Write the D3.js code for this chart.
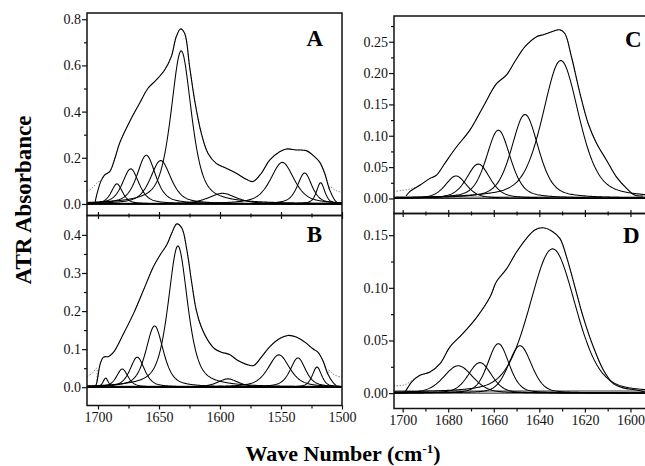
<!doctype html>
<html>
<head>
<meta charset="utf-8">
<title>ATR spectra with band fits</title>
<script src="https://cdnjs.cloudflare.com/ajax/libs/d3/7.8.5/d3.min.js"></script>
<style>
  body { margin: 0; background: #fff; }
  svg text { font-family: 'Liberation Serif', 'Tinos', 'Times New Roman', 'Nimbus Roman', 'DejaVu Serif', serif; }
</style>
</head>
<body>
<div id="chart"></div>
<script>
// ---- data ----
// x ticks
const xTicksLeft = [1700, 1650, 1600, 1550, 1500];
const xMinorLeft = [1675, 1625, 1575, 1525];
const xTicksRight = [1700, 1680, 1660, 1640, 1620, 1600];
const xMinorRight = [1690, 1670, 1650, 1630, 1610];

// y ticks
const yTicksA = [0, 0.2, 0.4, 0.6, 0.8];
const yMinorA = [0.1, 0.3, 0.5, 0.7];
const yTicksB = [0, 0.1, 0.2, 0.3, 0.4];
const yMinorB = [0.05, 0.15, 0.25, 0.35];
const yTicksC = [0, 0.05, 0.10, 0.15, 0.20, 0.25];
const yMinorC = [0.025, 0.075, 0.125, 0.175, 0.225, 0.275];
const yTicksD = [0, 0.05, 0.10, 0.15];
const yMinorD = [0.025, 0.075, 0.125];

// component bands (centre cm-1, height, fwhm cm-1)
const bandA_center = [1684.5, 1673.2, 1660.4, 1648.6, 1631.8, 1598, 1548.9, 1530.6, 1517.5];
const bandA_height = [0.087, 0.152, 0.211, 0.188, 0.663, 0.046, 0.180, 0.134, 0.092];
const bandA_width  = [11, 16, 18, 20, 20, 27, 23, 14, 8];

const bandB_center = [1693.7, 1680.1, 1667.8, 1653.6, 1634.5, 1593.5, 1551.7, 1536.1, 1520.5];
const bandB_height = [0.024, 0.048, 0.079, 0.161, 0.371, 0.022, 0.085, 0.077, 0.053];
const bandB_width  = [5, 11, 14, 17, 19, 20, 21, 15, 9];

const bandC_center = [1676.6, 1666.8, 1658, 1646.3, 1630.6];
const bandC_height = [0.036, 0.055, 0.109, 0.134, 0.220];
const bandC_width  = [11, 12, 12.5, 14, 19];

const bandD_center = [1675.6, 1666.1, 1658, 1648.5, 1634.2];
const bandD_height = [0.026, 0.029, 0.047, 0.045, 0.137];
const bandD_width  = [15, 12, 11, 12, 24];

// measured spectra [wavenumber, absorbance]
const specA = [[1702.5,0.005],[1700.5,0.05],[1697.5,0.10],[1694.5,0.126],[1690.4,0.14],[1686,0.2],
  [1682.3,0.263],[1674.1,0.356],[1665.9,0.436],[1659,0.501],[1652.2,0.537],[1645.4,0.58],[1639.9,0.638],
  [1635.8,0.725],[1632.3,0.758],[1629,0.739],[1624.9,0.595],[1620.8,0.45],[1615.3,0.306],[1609.9,0.22],
  [1603.1,0.176],[1594.9,0.155],[1586.7,0.133],[1578.5,0.107],[1573,0.097],[1566.1,0.133],[1559.3,0.19],
  [1551.1,0.226],[1545.6,0.238],[1537.5,0.234],[1529.3,0.231],[1522.5,0.205],[1518.3,0.181],[1514.2,0.133],
  [1510.1,0.061],[1506,0.017],[1503.5,0.003]];
const specB = [[1702,0.003],[1700.9,0.013],[1698.1,0.062],[1695.4,0.079],[1691.2,0.081],[1687.2,0.092],
  [1679,0.141],[1670.8,0.194],[1662.7,0.255],[1654.5,0.317],[1649,0.348],[1643.6,0.374],[1639.5,0.405],
  [1635.4,0.429],[1631.3,0.418],[1627.2,0.361],[1623.1,0.273],[1619.4,0.202],[1615.3,0.158],[1609.9,0.123],
  [1604.4,0.101],[1598.9,0.092],[1592.1,0.086],[1585.3,0.07],[1578.4,0.06],[1572.4,0.057],[1566.1,0.079],
  [1559.3,0.106],[1551.1,0.128],[1544.3,0.136],[1537.5,0.132],[1530.7,0.119],[1523.9,0.101],[1519.8,0.092],
  [1515.7,0.07],[1511.6,0.035],[1507.5,0.013],[1504.7,0.004]];
const specC = [[1698.5,0.004],[1696.9,0.011],[1692.5,0.021],[1688,0.032],[1685.2,0.037],[1681.5,0.056],
  [1676.4,0.082],[1670.5,0.109],[1664.7,0.146],[1658.8,0.183],[1654.4,0.197],[1650.8,0.218],[1646.3,0.242],
  [1641.2,0.258],[1638.3,0.261],[1634.6,0.266],[1631,0.269],[1628.8,0.263],[1625.9,0.226],[1622.2,0.168],
  [1618.6,0.12],[1614.9,0.088],[1610.5,0.061],[1606.1,0.034],[1601.7,0.016],[1598,0.005],[1594.4,0.004]];
const specD = [[1699.5,0.0],[1699,0.001],[1696.1,0.0105],[1692.4,0.017],[1688,0.02],[1683.6,0.028],
  [1679.2,0.044],[1673.4,0.057],[1667.5,0.072],[1661.7,0.091],[1658.8,0.106],[1654.4,0.118],[1650,0.134],
  [1645.6,0.147],[1642,0.155],[1638.3,0.157],[1634.6,0.154],[1631,0.147],[1628,0.129],[1624.4,0.101],
  [1620.7,0.072],[1616.3,0.044],[1611.9,0.022],[1607.5,0.009],[1603.2,0.005],[1597.3,0.003],[1593.7,0.001]];

// dotted fit trace where it leaves the spectrum (edges)
const dotA_left = [[1709,0.053],[1705,0.068],[1700,0.095]];
const dotA_right = [[1510,0.075],[1505,0.058],[1500,0.05]];
const dotB_left = [[1709,0.028],[1705,0.036],[1701,0.05]];
const dotB_right = [[1511,0.045],[1506,0.032],[1500,0.026]];
const dotC_left = [[1704,0.011],[1700,0.013],[1696.9,0.015]];
const dotC_right = [[1592,0.006]];
const dotD_left = [[1704,0.007],[1699,0.008],[1696,0.012]];
const dotD_right = [[1592,0.002]];

// ---- layout ----
const W = 645, H = 466;
const FONT = "'Liberation Serif', 'Tinos', 'Times New Roman', 'Nimbus Roman', 'DejaVu Serif', serif";
const svg = d3.select('#chart').append('svg')
  .attr('width', W).attr('height', H)
  .attr('font-family', FONT)
  .style('display', 'block');

const panels = [
  { name: 'A', x: [87, 342], y: [13, 215.5], xdom: [1709, 1500], ydom: [-0.05, 0.827],
    spec: specA, dotL: dotA_left, dotR: dotA_right,
    bc: bandA_center, bh: bandA_height, bw: bandA_width, eta: 0.6,
    yt: yTicksA, ym: yMinorA, fmt: '.1f', xt: xTicksLeft, xm: xMinorLeft,
    bottom: 'cross', lab: [323, 46, 'end'] },
  { name: 'B', x: [87, 342], y: [215.5, 405.5], xdom: [1709, 1500], ydom: [-0.048, 0.451],
    spec: specB, dotL: dotB_left, dotR: dotB_right,
    bc: bandB_center, bh: bandB_height, bw: bandB_width, eta: 0.6,
    yt: yTicksB, ym: yMinorB, fmt: '.1f', xt: xTicksLeft, xm: xMinorLeft,
    bottom: 'labels', lab: [322, 242, 'end'] },
  { name: 'C', x: [394, 648], y: [16, 213.5], xdom: [1703.8, 1592.3], ydom: [-0.024, 0.291],
    spec: specC, dotL: dotC_left, dotR: dotC_right,
    bc: bandC_center, bh: bandC_height, bw: bandC_width, eta: 0.45,
    yt: yTicksC, ym: yMinorC, fmt: '.2f', xt: xTicksRight, xm: xMinorRight,
    bottom: 'cross', lab: [625, 47, 'start'] },
  { name: 'D', x: [394, 648], y: [213.5, 408.5], xdom: [1703.8, 1592.3], ydom: [-0.0146, 0.1706],
    spec: specD, dotL: dotD_left, dotR: dotD_right,
    bc: bandD_center, bh: bandD_height, bw: bandD_width, eta: 0.3,
    yt: yTicksD, ym: yMinorD, fmt: '.2f', xt: xTicksRight, xm: xMinorRight,
    bottom: 'labels', lab: [623, 243, 'start'] }
];

// pseudo-Voigt band profile
function bandValue(wn, c, h, w, eta) {
  const t = (wn - c) / w;
  return h * (eta / (1 + 4 * t * t) + (1 - eta) * Math.exp(-4 * Math.LN2 * t * t));
}

panels.forEach((p, pi) => {
  const x = d3.scaleLinear().domain(p.xdom).range(p.x);
  const y = d3.scaleLinear().domain(p.ydom).range([p.y[1], p.y[0]]);
  const line = d3.line().x(d => x(d[0])).y(d => y(d[1])).curve(d3.curveCatmullRom.alpha(0.5));

  const clipId = 'clip' + pi;
  svg.append('clipPath').attr('id', clipId).append('rect')
    .attr('x', p.x[0]).attr('y', p.y[0])
    .attr('width', p.x[1] - p.x[0]).attr('height', p.y[1] - p.y[0]);

  const g = svg.append('g').attr('clip-path', `url(#${clipId})`);

  // baseline
  g.append('line')
    .attr('x1', p.x[0]).attr('x2', p.x[1])
    .attr('y1', y(0.002)).attr('y2', y(0.002))
    .attr('stroke', '#9a9a9a').attr('stroke-width', 2);
  g.append('line')
    .attr('x1', p.x[0]).attr('x2', p.x[1])
    .attr('y1', y(0)).attr('y2', y(0))
    .attr('stroke', '#222').attr('stroke-width', 1);

  // component bands
  const grid = d3.range(p.xdom[0], p.xdom[1] - 0.01, -0.5);
  p.bc.forEach((c, i) => {
    const pts = grid.map(wn => [wn, bandValue(wn, c, p.bh[i], p.bw[i], p.eta)]);
    g.append('path')
      .attr('d', d3.line().x(d => x(d[0])).y(d => y(d[1]))(pts))
      .attr('fill', 'none').attr('stroke', '#000').attr('stroke-width', 1.05);
  });

  // dotted fit trace
  const leftMerge = p.dotL[p.dotL.length - 1][0];
  const rightMerge = p.dotR[0][0];
  const dotted = p.dotL
    .concat(p.spec.filter(d => d[0] < leftMerge && d[0] > rightMerge))
    .concat(p.dotR);
  g.append('path')
    .attr('d', line(dotted))
    .attr('fill', 'none').attr('stroke', '#8a8a8a').attr('stroke-width', 1)
    .attr('stroke-dasharray', '1.5,1.5');

  // measured spectrum
  g.append('path')
    .attr('d', line(p.spec))
    .attr('fill', 'none').attr('stroke', '#000').attr('stroke-width', 1.1);

  // y axis
  svg.append('g').attr('transform', `translate(${p.x[0]},0)`)
    .call(d3.axisLeft(y).tickValues(p.yt).tickFormat(d3.format(p.fmt)).tickSize(5).tickPadding(1));
  svg.append('g').attr('transform', `translate(${p.x[0]},0)`)
    .call(d3.axisLeft(y).tickValues(p.ym).tickFormat('').tickSize(3));

  // x ticks at bottom edge
  const by = p.y[1];
  if (p.bottom === 'labels') {
    svg.append('g').attr('transform', `translate(0,${by})`)
      .call(d3.axisBottom(x).tickValues(p.xt).tickFormat(d3.format('d')).tickSize(4).tickPadding(3));
    svg.append('g').attr('transform', `translate(0,${by})`)
      .call(d3.axisBottom(x).tickValues(p.xm).tickFormat('').tickSize(3));
  } else {
    svg.append('g').attr('transform', `translate(0,${by})`)
      .call(d3.axisBottom(x).tickValues(p.xt).tickFormat('').tickSize(3.5));
    svg.append('g').attr('transform', `translate(0,${by})`)
      .call(d3.axisTop(x).tickValues(p.xt).tickFormat('').tickSize(3.5));
    svg.append('g').attr('transform', `translate(0,${by})`)
      .call(d3.axisBottom(x).tickValues(p.xm).tickFormat('').tickSize(2));
    svg.append('g').attr('transform', `translate(0,${by})`)
      .call(d3.axisTop(x).tickValues(p.xm).tickFormat('').tickSize(2));
  }

  // frame
  svg.append('rect')
    .attr('x', p.x[0]).attr('y', p.y[0])
    .attr('width', p.x[1] - p.x[0]).attr('height', p.y[1] - p.y[0])
    .attr('fill', 'none').attr('stroke', '#111').attr('stroke-width', 1.5);

  // panel letter
  svg.append('text')
    .attr('x', p.lab[0]).attr('y', p.lab[1])
    .attr('text-anchor', p.lab[2])
    .attr('font-size', 23).attr('font-weight', 'bold')
    .text(p.name);
});

// tidy axes
svg.selectAll('.domain').remove();
svg.selectAll('g[font-family]').attr('font-family', FONT);
svg.selectAll('.tick line').attr('stroke', '#111').attr('stroke-width', 1.2);
svg.selectAll('.tick text')
  .attr('font-size', 14).attr('fill', '#111');

// axis titles
svg.append('text')
  .attr('transform', 'translate(31,200) rotate(-90)')
  .attr('text-anchor', 'middle')
  .attr('font-size', 23).attr('font-weight', 'bold')
  .text('ATR Absorbance');

const xt = svg.append('text')
  .attr('x', 343).attr('y', 461)
  .attr('text-anchor', 'middle')
  .attr('font-size', 22).attr('font-weight', 'bold');
xt.append('tspan').text('Wave Number (cm');
xt.append('tspan').attr('font-size', 13).attr('dy', -8).text('-1');
xt.append('tspan').attr('dy', 8).text(')');
</script>
</body>
</html>
